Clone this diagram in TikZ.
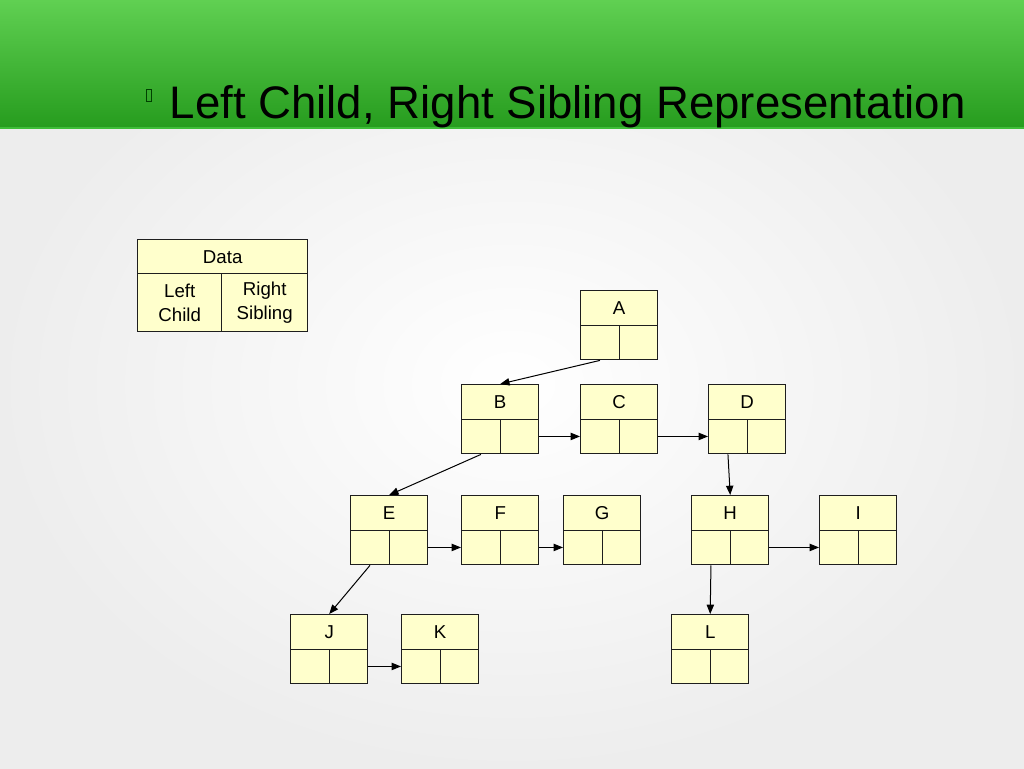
\documentclass[tikz,border=0pt]{standalone}
\usepackage{fontspec}
\setmainfont{Liberation Sans}
\usetikzlibrary{arrows.meta}
\definecolor{bandtop}{RGB}{96,208,82}
\definecolor{bandbot}{RGB}{38,156,30}
\definecolor{bandrim}{RGB}{62,190,56}
\definecolor{cellfill}{RGB}{255,255,204}
\definecolor{cellline}{RGB}{30,30,30}

\begin{document}
\begin{tikzpicture}[x=0.75pt,y=0.75pt,yscale=-1,xscale=1,
  datacell/.style={draw=cellline, fill=cellfill, line width=1.05pt, anchor=north west,
    minimum width=57.75pt, minimum height=25.875pt, inner sep=0pt, font=\fontsize{14}{16}\selectfont},
  ptrcell/.style={draw=cellline, fill=cellfill, line width=1.05pt, anchor=north west,
    minimum width=28.875pt, minimum height=25.875pt, inner sep=0pt},
  link/.style={draw=black, line width=0.75pt, -{Triangle[length=7pt,width=5.5pt]}}]
\useasboundingbox (0,0) rectangle (1024,768);

%Background
\shade [inner color=white, outer color=black!7] (0,0) rectangle (1024,768);
%Title band
\shade [top color=bandtop, bottom color=bandbot] (0,0) rectangle (1024,128);
\draw [bandrim, line width=1.5pt] (0,128) -- (1024,128);
\draw [black!75!green, line width=0.5pt] (146,89) rectangle (151,101);

% Title
\node (title) [anchor=base west, inner sep=0pt, font=\fontsize{34.2}{40}\selectfont] at (169.5,118) {Left Child, Right Sibling Representation};

%Legend
\node (key) [datacell, minimum width=127.5pt] at (137,239) {Data};
\node (keyl) [ptrcell, minimum width=63pt, minimum height=43.5pt, align=center, font=\fontsize{14}{18}\selectfont] at (137,273) {Left\\Child};
\node (keyr) [ptrcell, minimum width=64.5pt, minimum height=43.5pt, align=center, font=\fontsize{14}{18}\selectfont] at (221,273) {Right\\Sibling};

%Records
\foreach \n/\x/\y in {A/580/290, B/461/384, C/580/384, D/708/384,
                      E/350/495, F/461/495, G/563/495, H/691/495, I/819/495,
                      J/290/614, K/401/614, L/671/614}{
  \node (\n) [datacell] at (\x,\y) {\n};
  \node (\n-l) [ptrcell] at (\x,\y+34.5) {};
  \node (\n-r) [ptrcell] at (\x+38.5,\y+34.5) {};
}

%Left child links
\draw [link] (A-l.south) -- (B.north);
\draw [link] (B-l.south) -- (E.north);
\draw [link] (E-l.south) -- (J.north);
\draw [link] (D-l.south) -- (H.north);
\draw [link] (H-l.south) -- (L.north);
%Right sibling links
\draw [link] (B-r.east) -- (C-l.west);
\draw [link] (C-r.east) -- (D-l.west);
\draw [link] (E-r.east) -- (F-l.west);
\draw [link] (F-r.east) -- (G-l.west);
\draw [link] (H-r.east) -- (I-l.west);
\draw [link] (J-r.east) -- (K-l.west);

\end{tikzpicture}
\end{document}
